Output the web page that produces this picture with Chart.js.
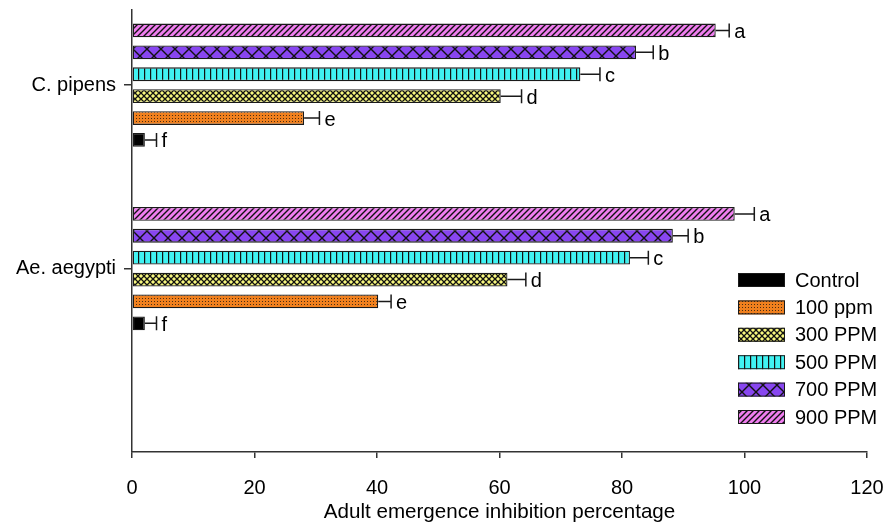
<!DOCTYPE html>
<html>
<head>
<meta charset="utf-8">
<script src="https://cdn.jsdelivr.net/npm/chart.js@4"></script>
<style>
    body { margin: 0; background: #ffffff; }
    #wrap { width: 887px; height: 525px; }
</style>
</head>
<body>
<div id="wrap"><canvas id="emergenceChart"></canvas></div>
<script>
const species = ["C. pipens", "Ae. aegypti"];
const speciesPositions = [1, 2];
const doses = ["Control", "100 ppm", "300 PPM", "500 PPM", "700 PPM", "900 PPM"];

// values per dose, in species order
const controlValues = [2.1, 2.1];
const ppm100Values = [28.1, 40.2];
const ppm300Values = [60.2, 61.3];
const ppm500Values = [73.2, 81.3];
const ppm700Values = [82.3, 88.3];
const ppm900Values = [95.3, 98.4];

const controlErrors = [1.9, 1.9];
const ppm100Errors = [2.5, 2.1];
const ppm300Errors = [3.4, 3.0];
const ppm500Errors = [3.2, 3.0];
const ppm700Errors = [2.8, 2.5];
const ppm900Errors = [2.2, 3.2];

const letters = ["f", "e", "d", "c", "b", "a"];
const xTicks = [0, 20, 40, 60, 80, 100, 120];

const font = "'Liberation Sans', Arial, sans-serif";

function makePattern(size, fill, draw) {
    const c = document.createElement("canvas");
    c.width = size[0];
    c.height = size[1];
    const ctx = c.getContext("2d");
    ctx.fillStyle = fill;
    ctx.fillRect(0, 0, c.width, c.height);
    ctx.strokeStyle = "#111";
    ctx.fillStyle = "#111";
    draw(ctx, c.width, c.height);
    return document.createElement("canvas").getContext("2d").createPattern(c, "repeat");
}

const fills = [
    "#000000",
    makePattern([3, 3], "#f0801e", (ctx) => {
        ctx.globalAlpha = 0.75;
        ctx.fillRect(1, 1, 1, 1);
    }),
    makePattern([6, 6], "#f7f77e", (ctx, w, h) => {
        ctx.lineWidth = 1.3;
        ctx.beginPath();
        ctx.moveTo(0, 0); ctx.lineTo(w, h);
        ctx.moveTo(w, 0); ctx.lineTo(0, h);
        ctx.stroke();
    }),
    makePattern([6, 6], "#40f2f2", (ctx) => {
        ctx.fillRect(0, 0, 1.2, 6);
    }),
    makePattern([14, 14], "#8846f0", (ctx, w, h) => {
        ctx.lineWidth = 1.4;
        ctx.beginPath();
        ctx.moveTo(0, 0); ctx.lineTo(w, h);
        ctx.moveTo(w, 0); ctx.lineTo(0, h);
        ctx.stroke();
    }),
    makePattern([6, 6], "#f07ef0", (ctx, w, h) => {
        ctx.lineWidth = 1.4;
        ctx.beginPath();
        ctx.moveTo(-1, h + 1); ctx.lineTo(w + 1, -1);
        ctx.moveTo(-1, 1); ctx.lineTo(1, -1);
        ctx.moveTo(w - 1, h + 1); ctx.lineTo(w + 1, h - 1);
        ctx.stroke();
    }),
];

const seriesValues = [controlValues, ppm100Values, ppm300Values, ppm500Values, ppm700Values, ppm900Values];
const seriesErrors = [controlErrors, ppm100Errors, ppm300Errors, ppm500Errors, ppm700Errors, ppm900Errors];

// top bar is 900 PPM, so build the datasets in reverse order
const datasets = doses.map((dose, i) => ({
    label: dose,
    data: species.map((s, j) => ({ x: seriesValues[i][j], y: speciesPositions[j] })),
    errors: seriesErrors[i],
    letter: letters[i],
    backgroundColor: fills[i],
    borderColor: "#1a1a1a",
    borderWidth: 1.3,
    borderSkipped: false,
    categoryPercentage: 0.716,
    barPercentage: 0.63,
})).reverse();

const errorBars = {
    id: "errorBars",
    afterDatasetsDraw(chart) {
        const ctx = chart.ctx;
        const xScale = chart.scales.x;
        ctx.save();
        chart.data.datasets.forEach((ds, di) => {
            const meta = chart.getDatasetMeta(di);
            meta.data.forEach((bar, j) => {
                const capX = xScale.getPixelForValue(ds.data[j].x + ds.errors[j]);
                ctx.strokeStyle = "#1a1a1a";
                ctx.lineWidth = 1.5;
                ctx.beginPath();
                ctx.moveTo(bar.x, bar.y);
                ctx.lineTo(capX, bar.y);
                ctx.moveTo(capX, bar.y - 7);
                ctx.lineTo(capX, bar.y + 7);
                ctx.stroke();
                ctx.fillStyle = "#000";
                ctx.font = "20px " + font;
                ctx.textAlign = "left";
                ctx.textBaseline = "middle";
                ctx.fillText(ds.letter, capX + 5, bar.y + 2);
            });
        });
        ctx.restore();
    },
};

const sideLegend = {
    id: "sideLegend",
    afterDraw(chart) {
        const ctx = chart.ctx;
        const x = 738;
        const top = 280;
        ctx.save();
        doses.forEach((dose, i) => {
            const y = top + i * 27.4;
            ctx.fillStyle = fills[i];
            ctx.fillRect(x, y - 7, 47, 14);
            ctx.strokeStyle = "#1a1a1a";
            ctx.lineWidth = 1;
            ctx.strokeRect(x + 0.5, y - 6.5, 46, 13);
            ctx.fillStyle = "#000";
            ctx.font = "20px " + font;
            ctx.textAlign = "left";
            ctx.textBaseline = "middle";
            ctx.fillText(dose, x + 57, y + 1);
        });
        ctx.restore();
    },
};

new Chart(document.getElementById("emergenceChart"), {
    type: "bar",
    data: { datasets },
    plugins: [errorBars, sideLegend],
    options: {
        indexAxis: "y",
        responsive: true,
        maintainAspectRatio: false,
        animation: false,
        layout: { padding: { top: 10, right: 20, left: 0, bottom: 0 } },
        plugins: {
            legend: { display: false },
            tooltip: { enabled: false },
        },
        scales: {
            x: {
                type: "linear",
                min: 0,
                max: 120,
                afterBuildTicks: (scale) => { scale.ticks = xTicks.map((v) => ({ value: v })); },
                afterFit: (scale) => {
                    scale.height = 73;
                    scale.paddingLeft = 0;
                    scale.paddingRight = 0;
                },
                grid: { drawOnChartArea: false, drawTicks: true, tickLength: 6, color: "#333", lineWidth: 1.5 },
                border: { display: true, color: "#333", width: 1.5 },
                ticks: { color: "#000", font: { family: font, size: 20 }, padding: 18, maxRotation: 0 },
                title: {
                    display: true,
                    text: "Adult emergence inhibition percentage",
                    color: "#000",
                    font: { family: font, size: 20.6 },
                    padding: { top: 0, bottom: 0 },
                },
            },
            y: {
                type: "linear",
                reverse: true,
                offset: false,
                min: 0.59,
                max: 3.0,
                afterBuildTicks: (scale) => { scale.ticks = speciesPositions.map((v) => ({ value: v })); },
                afterFit: (scale) => {
                    scale.width = 132;
                    scale.paddingTop = 0;
                    scale.paddingBottom = 0;
                },
                grid: { offset: false, drawOnChartArea: false, drawTicks: true, tickLength: 8, color: "#333", lineWidth: 1.5 },
                border: { display: true, color: "#333", width: 1.5 },
                ticks: {
                    color: "#000",
                    font: { family: font, size: 20 },
                    padding: 8,
                    callback: (value) => species[speciesPositions.indexOf(value)] || "",
                },
            },
        },
    },
});
</script>
</body>
</html>
